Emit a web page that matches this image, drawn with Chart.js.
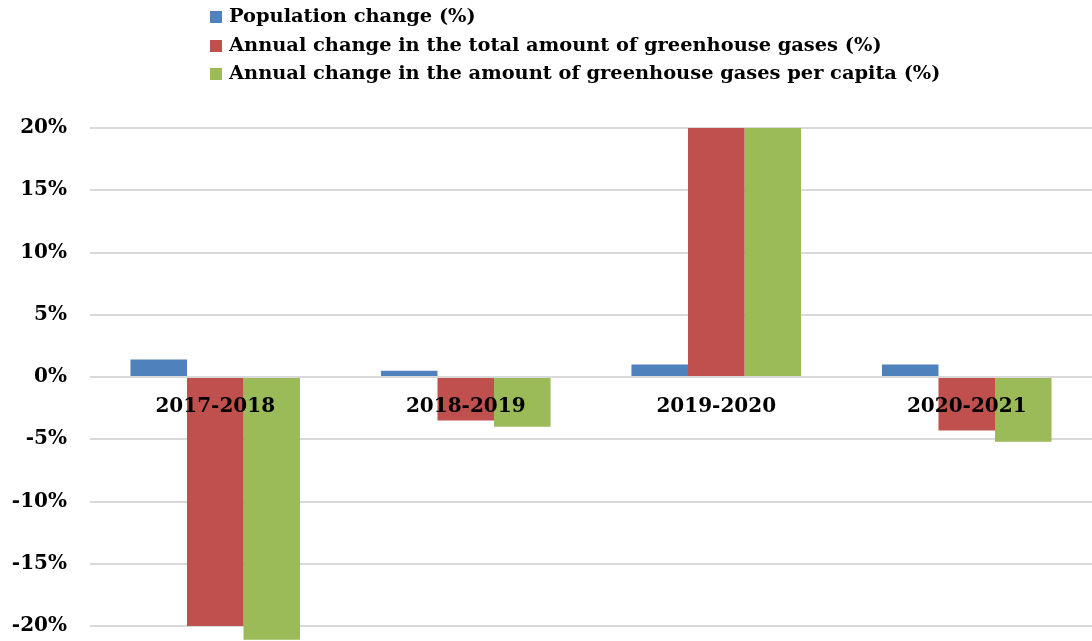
<!DOCTYPE html>
<html>
<head>
<meta charset="utf-8">
<script src="https://cdn.jsdelivr.net/npm/chart.js@4/dist/chart.umd.min.js"></script>
<style>
  html, body { margin: 0; padding: 0; background: #fff; }
  #wrap { position: relative; width: 1092px; height: 641px; }
  #wrap canvas { display: block; }
  #legend {
    position: absolute; left: 210px; top: 2px;
    font: bold 19.4px "DejaVu Serif", serif; color: #000;
  }
  #legend .row { height: 28.5px; line-height: 28.5px; white-space: nowrap; }
  #legend .box {
    display: inline-block; width: 12px; height: 12px;
    margin-right: 7px; vertical-align: -1px;
  }
</style>
</head>
<body>
<div id="wrap">
  <canvas id="chart" width="1092" height="641"></canvas>
  <div id="legend"></div>
</div>
<script>
/* =========================
   DATA
========================= */
const periods = ["2017-2018", "2018-2019", "2019-2020", "2020-2021"];

const seriesNames = [
  "Population change (%)",
  "Annual change in the total amount of greenhouse gases (%)",
  "Annual change in the amount of greenhouse gases per capita (%)"
];

const populationChange = [1.4, 0.5, 1.0, 1.0];
const totalGhgChange = [-20.0, -3.5, 20.0, -4.3];
const perCapitaGhgChange = [-21.1, -4.0, 20.0, -5.2];

const yTicks = [-20, -15, -10, -5, 0, 5, 10, 15, 20];
const yMin = -21.2;
const yMax = 20;

/* =========================
   STYLE
========================= */
const colors = ["#4F81BD", "#C0504D", "#9BBB59"];
const serif = "'DejaVu Serif', serif";

/* =========================
   LEGEND (HTML)
========================= */
const legendEl = document.getElementById("legend");
seriesNames.forEach((name, i) => {
  const row = document.createElement("div");
  row.className = "row";
  const box = document.createElement("span");
  box.className = "box";
  box.style.background = colors[i];
  row.appendChild(box);
  row.appendChild(document.createTextNode(name));
  legendEl.appendChild(row);
});

/* =========================
   CHART
========================= */
new Chart(document.getElementById("chart"), {
  type: "bar",
  data: {
    labels: periods,
    datasets: [populationChange, totalGhgChange, perCapitaGhgChange].map((d, i) => ({
      label: seriesNames[i],
      data: d,
      backgroundColor: colors[i],
      borderWidth: 0
    }))
  },
  options: {
    responsive: false,
    animation: false,
    layout: { padding: { top: 128, left: 0, right: 0, bottom: 0 } },
    plugins: {
      legend: { display: false },
      tooltip: { enabled: false }
    },
    datasets: {
      bar: { categoryPercentage: 0.677, barPercentage: 1 }
    },
    scales: {
      x: {
        position: { y: 0 },
        afterFit: (s) => { s.height = 0; },
        grid: { display: false, drawTicks: false },
        border: { display: false },
        ticks: {
          z: 1,
          padding: 18,
          color: "#000",
          font: { family: serif, size: 20, weight: "bold" }
        }
      },
      y: {
        min: yMin,
        max: yMax,
        afterBuildTicks: (s) => { s.ticks = yTicks.map((v) => ({ value: v })); },
        // fixed axis width, and no extra room kept under the last tick
        afterFit: (s) => {
          s.width = 90;
          s.paddingBottom = 0;
          s.paddingTop = 0;
        },
        grid: {
          drawTicks: false,
          lineWidth: 2,
          color: "#D9D9D9"
        },
        border: { display: false },
        ticks: {
          padding: 23,
          color: "#000",
          font: { family: serif, size: 20, weight: "bold" },
          callback: (v) => v + "%"
        }
      }
    }
  }
});
</script>
</body>
</html>
